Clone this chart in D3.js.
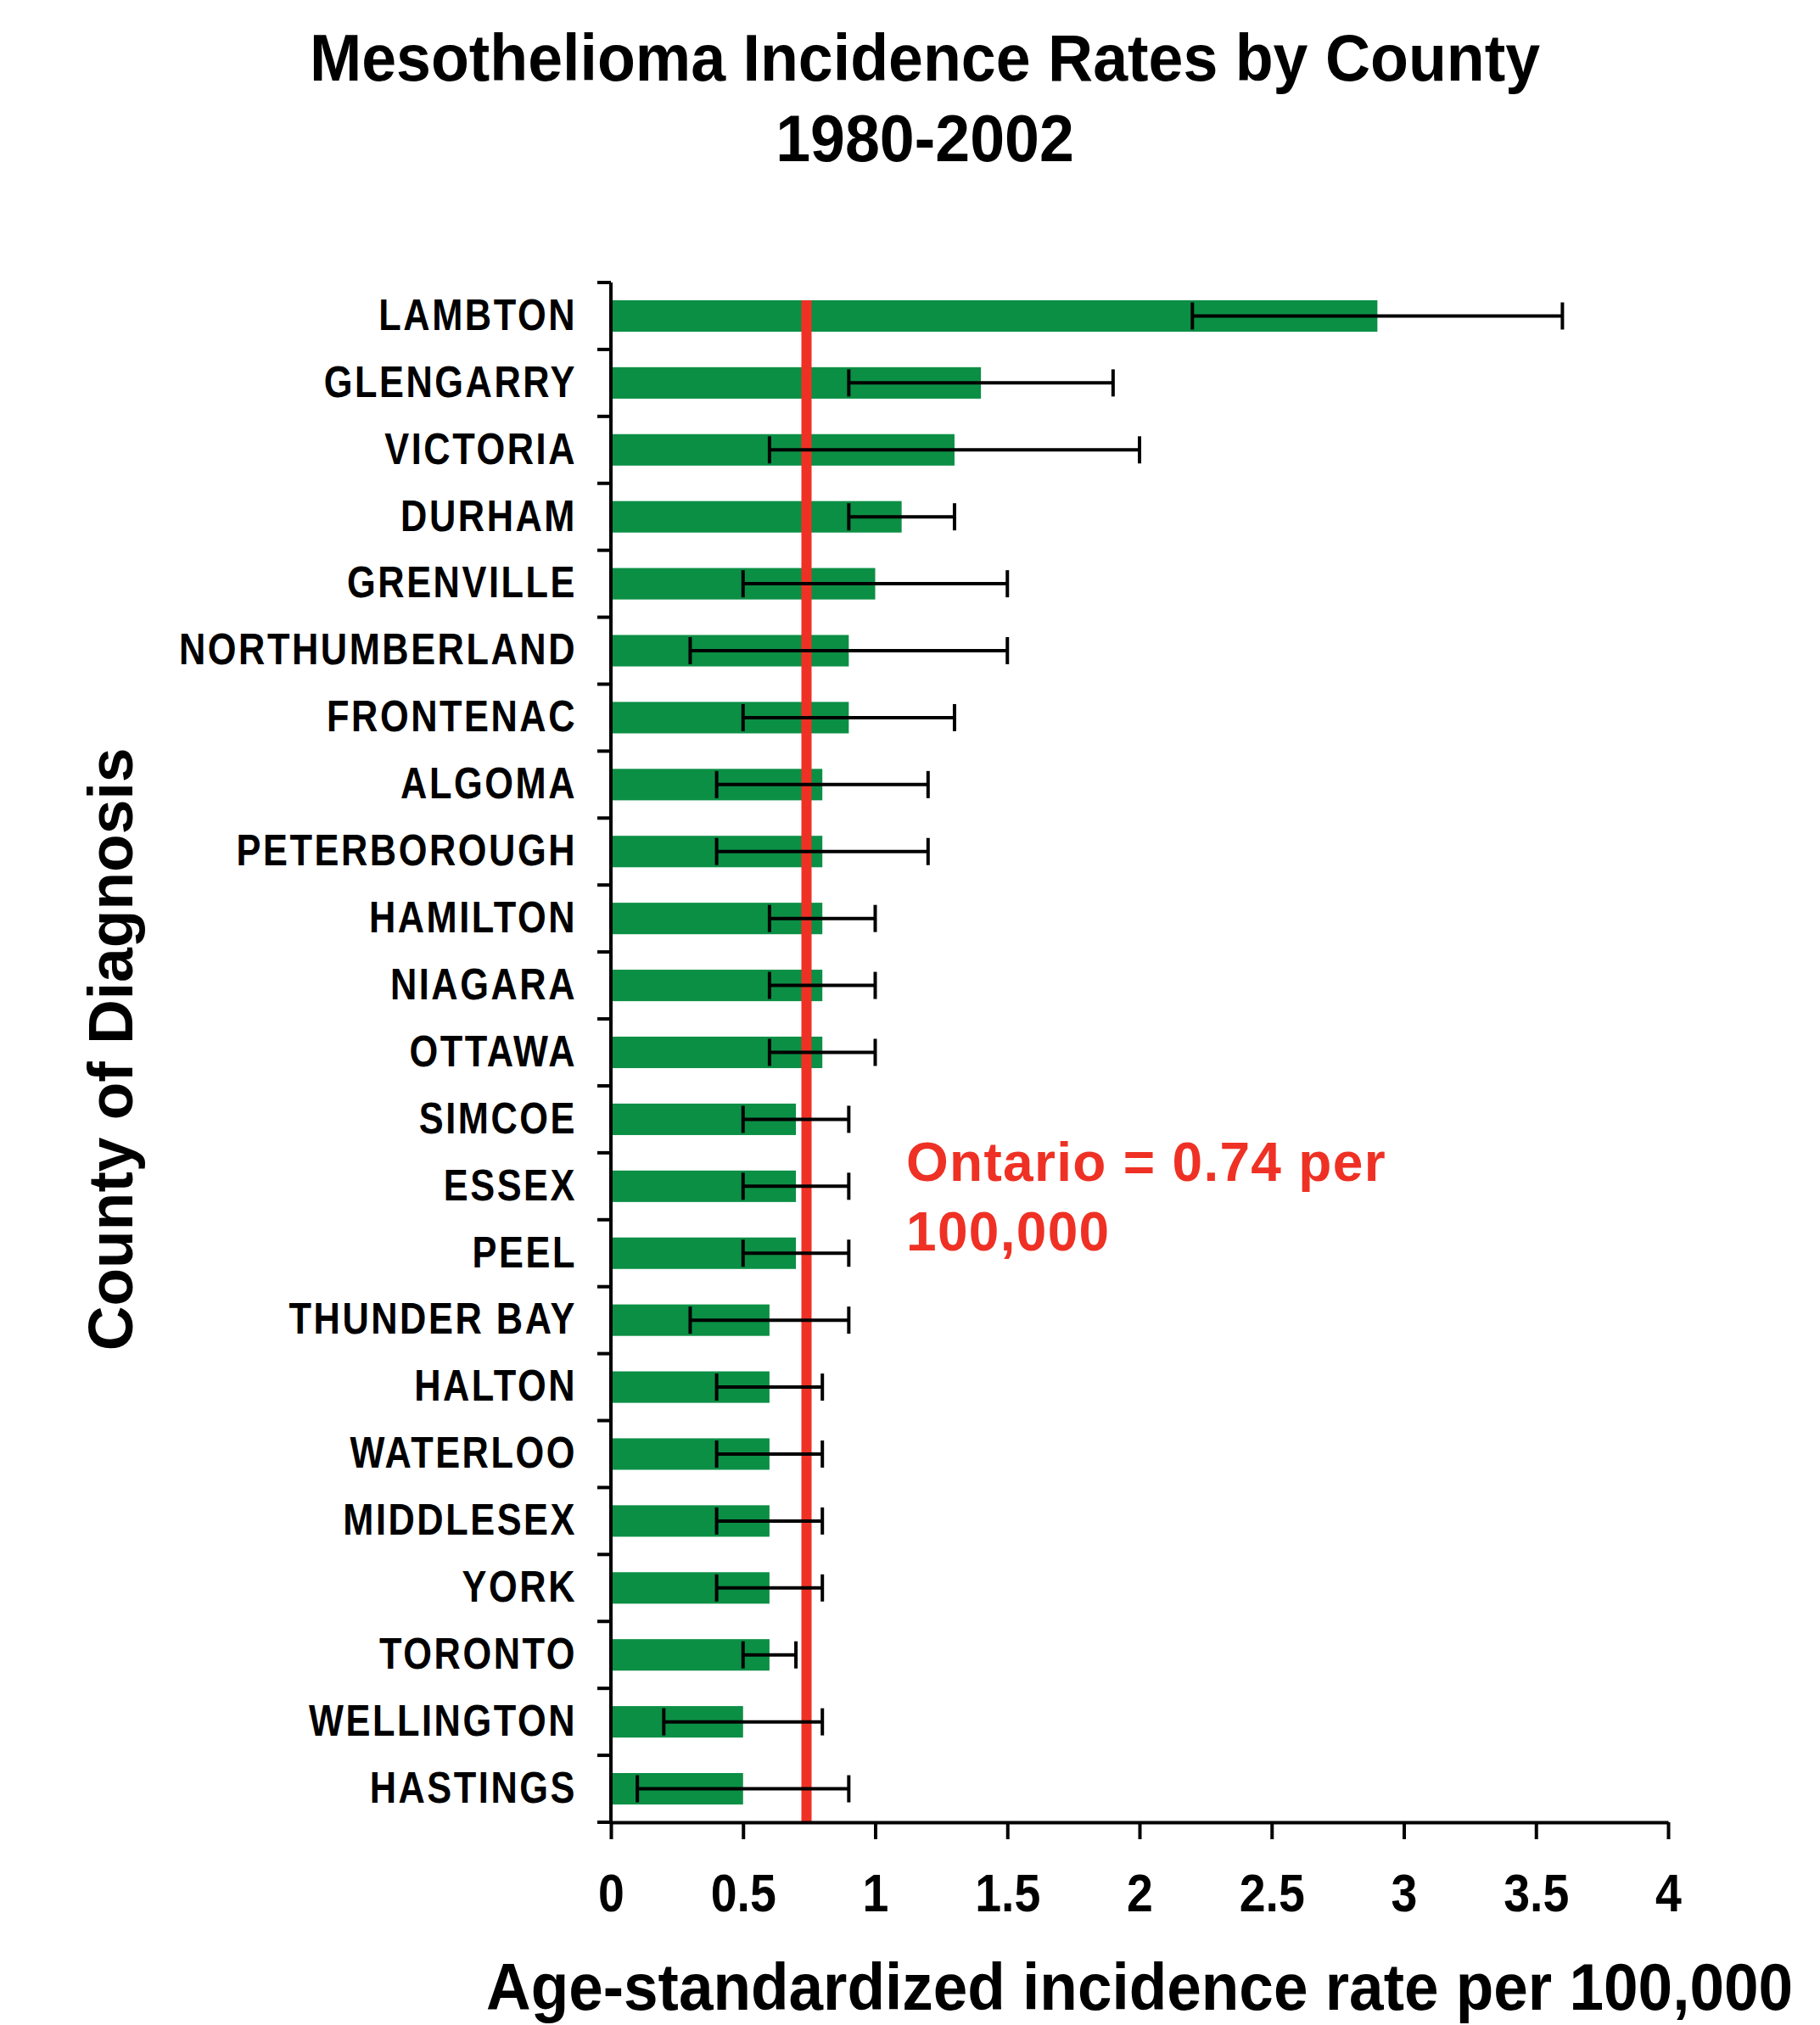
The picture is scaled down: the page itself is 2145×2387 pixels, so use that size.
<!DOCTYPE html>
<html>
<head>
<meta charset="utf-8">
<script src="https://cdn.jsdelivr.net/npm/d3@7"></script>
<style>
  html, body { margin: 0; padding: 0; background: #fff; }
  svg { display: block; }
</style>
</head>
<body>
<svg id="chart" width="2145" height="2387"></svg>
<script>
// Counties, ordered from highest to lowest rate
const counties = [
  "LAMBTON", "GLENGARRY", "VICTORIA", "DURHAM", "GRENVILLE", "NORTHUMBERLAND",
  "FRONTENAC", "ALGOMA", "PETERBOROUGH", "HAMILTON", "NIAGARA", "OTTAWA",
  "SIMCOE", "ESSEX", "PEEL", "THUNDER BAY", "HALTON", "WATERLOO",
  "MIDDLESEX", "YORK", "TORONTO", "WELLINGTON", "HASTINGS"
];
// Age-standardized incidence rate per 100,000
const rates = [2.9, 1.4, 1.3, 1.1, 1.0, 0.9, 0.9, 0.8, 0.8, 0.8, 0.8, 0.8,
               0.7, 0.7, 0.7, 0.6, 0.6, 0.6, 0.6, 0.6, 0.6, 0.5, 0.5];
// 95% confidence limits
const lowerCI = [2.2, 0.9, 0.6, 0.9, 0.5, 0.3, 0.5, 0.4, 0.4, 0.6, 0.6, 0.6,
                 0.5, 0.5, 0.5, 0.3, 0.4, 0.4, 0.4, 0.4, 0.5, 0.2, 0.1];
const upperCI = [3.6, 1.9, 2.0, 1.3, 1.5, 1.5, 1.3, 1.2, 1.2, 1.0, 1.0, 1.0,
                 0.9, 0.9, 0.9, 0.9, 0.8, 0.8, 0.8, 0.8, 0.7, 0.8, 0.9];
// Provincial rate
const ontarioRate = 0.74;
const ontarioLabel = ["Ontario = 0.74 per", "100,000"];
// X axis ticks
const xTickValues = [0, 0.5, 1, 1.5, 2, 2.5, 3, 3.5, 4];
const xTickLabels = ["0", "0.5", "1", "1.5", "2", "2.5", "3", "3.5", "4"];

const titleLines = ["Mesothelioma Incidence Rates by County", "1980-2002"];
const xTitle = "Age-standardized incidence rate per 100,000";
const yTitle = "County of Diagnosis";

const GREEN = "#0b8f45";
const RED = "#ee3124";
const SANS = "'Liberation Sans', Arial, Helvetica, sans-serif";

const svg = d3.select("#chart");
const plot = { left: 720, right: 1966, top: 333, bottom: 2148 };

const x = d3.scaleLinear().domain([0, 4]).range([plot.left, plot.right]);
const y = d3.scaleBand()
  .domain(counties)
  .range([plot.top, plot.bottom])
  .paddingInner(0.53)
  .paddingOuter(0.265);

const rows = counties.map((c, i) => ({ county: c, rate: rates[i], lo: lowerCI[i], hi: upperCI[i] }));

// Title (slightly condensed bold sans)
const titleScale = 0.955;
svg.append("g")
  .attr("transform", `translate(1090,0) scale(${titleScale},1)`)
  .selectAll("text")
  .data(titleLines)
  .join("text")
  .attr("x", 0)
  .attr("y", (d, i) => 95 + i * 95)
  .attr("text-anchor", "middle")
  .attr("font-family", SANS)
  .attr("font-weight", "bold")
  .attr("font-size", 77)
  .attr("fill", "#000")
  .text(d => d);

// Bars
svg.append("g")
  .selectAll("rect")
  .data(rows)
  .join("rect")
  .attr("x", x(0))
  .attr("y", d => y(d.county))
  .attr("width", d => x(d.rate) - x(0))
  .attr("height", y.bandwidth())
  .attr("fill", GREEN);

// Ontario reference line
svg.append("line")
  .attr("x1", x(ontarioRate))
  .attr("x2", x(ontarioRate))
  .attr("y1", y(counties[0]))
  .attr("y2", plot.bottom)
  .attr("stroke", RED)
  .attr("stroke-width", 12);

// Confidence interval whiskers
const capHalf = 16;
const err = svg.append("g").attr("stroke", "#000").attr("stroke-width", 4);
err.selectAll("line.span")
  .data(rows)
  .join("line")
  .attr("class", "span")
  .attr("x1", d => x(d.lo))
  .attr("x2", d => x(d.hi))
  .attr("y1", d => y(d.county) + y.bandwidth() / 2)
  .attr("y2", d => y(d.county) + y.bandwidth() / 2);
err.selectAll("line.capLo")
  .data(rows)
  .join("line")
  .attr("class", "capLo")
  .attr("x1", d => x(d.lo))
  .attr("x2", d => x(d.lo))
  .attr("y1", d => y(d.county) + y.bandwidth() / 2 - capHalf)
  .attr("y2", d => y(d.county) + y.bandwidth() / 2 + capHalf);
err.selectAll("line.capHi")
  .data(rows)
  .join("line")
  .attr("class", "capHi")
  .attr("x1", d => x(d.hi))
  .attr("x2", d => x(d.hi))
  .attr("y1", d => y(d.county) + y.bandwidth() / 2 - capHalf)
  .attr("y2", d => y(d.county) + y.bandwidth() / 2 + capHalf);

// X axis
const tickScale = 0.88;
const xAxis = d3.axisBottom(x)
  .tickValues(xTickValues)
  .tickFormat((d, i) => xTickLabels[i])
  .tickSize(20)
  .tickPadding(40)
  .tickSizeOuter(0);
const gx = svg.append("g")
  .attr("transform", `translate(0,${plot.bottom})`)
  .call(xAxis);
gx.select(".domain").attr("stroke", "#000").attr("stroke-width", 4);
gx.selectAll(".tick line").attr("stroke", "#000").attr("stroke-width", 4);
gx.selectAll(".tick text")
  .attr("font-family", SANS)
  .attr("font-weight", "bold")
  .attr("font-size", 63)
  .attr("transform", `scale(${tickScale},1)`)
  .attr("fill", "#000");

// Y axis: labels centred on bars, ticks on the category boundaries
const labelScale = 0.85;
const yAxis = d3.axisLeft(y).tickSize(0).tickPadding(0);
const gy = svg.append("g")
  .attr("transform", `translate(${plot.left},0)`)
  .call(yAxis);
gy.select(".domain").remove();
gy.selectAll(".tick text")
  .attr("x", -40 / labelScale)
  .attr("transform", `scale(${labelScale},1)`)
  .attr("font-family", SANS)
  .attr("font-weight", "bold")
  .attr("font-size", 51)
  .attr("letter-spacing", 3)
  .attr("fill", "#000");

const boundaries = counties.map(c => y(c) - y.step() * y.paddingInner() / 2).concat([plot.bottom]);
const yLines = svg.append("g").attr("stroke", "#000").attr("stroke-width", 4);
yLines.append("line")
  .attr("x1", plot.left).attr("x2", plot.left)
  .attr("y1", boundaries[0]).attr("y2", plot.bottom + 2);
yLines.selectAll("line.tick")
  .data(boundaries)
  .join("line")
  .attr("class", "tick")
  .attr("x1", plot.left - 16)
  .attr("x2", plot.left)
  .attr("y1", d => d)
  .attr("y2", d => d);

// Ontario annotation
svg.append("text")
  .attr("font-family", SANS)
  .attr("font-weight", "bold")
  .attr("font-size", 64)
  .attr("letter-spacing", 1.3)
  .attr("fill", RED)
  .selectAll("tspan")
  .data(ontarioLabel)
  .join("tspan")
  .attr("x", 1068)
  .attr("y", (d, i) => 1392 + i * 82)
  .text(d => d);

// Axis titles
svg.append("text")
  .attr("transform", "translate(573,2369) scale(0.935,1)")
  .attr("font-family", SANS)
  .attr("font-weight", "bold")
  .attr("font-size", 78)
  .attr("fill", "#000")
  .text(xTitle);

svg.append("text")
  .attr("transform", "translate(156,1237) rotate(-90) scale(0.975,1)")
  .attr("text-anchor", "middle")
  .attr("font-family", SANS)
  .attr("font-weight", "bold")
  .attr("font-size", 75)
  .attr("fill", "#000")
  .text(yTitle);
</script>
</body>
</html>
